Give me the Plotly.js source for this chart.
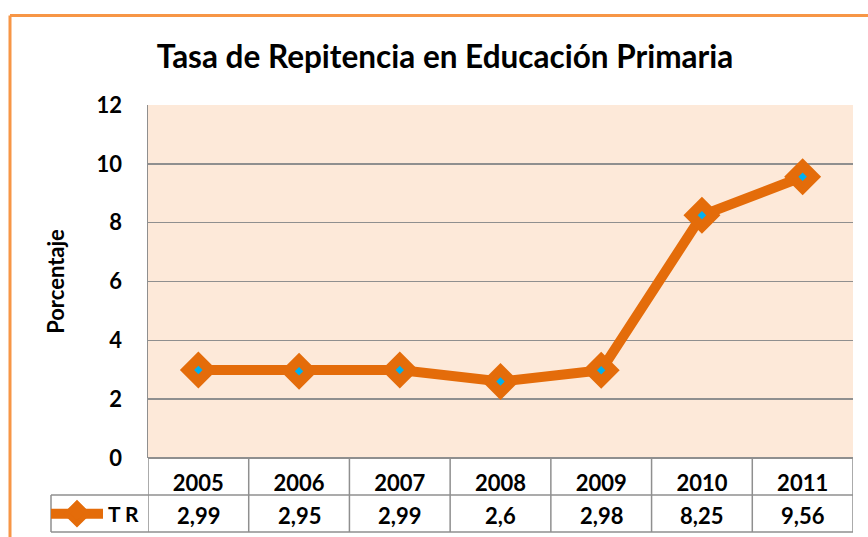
<!DOCTYPE html>
<html><head><meta charset="utf-8">
<script src="https://cdn.plot.ly/plotly-3.0.1.min.js"></script>
<style>html,body{margin:0;padding:0;background:#fff}#c{width:868px;height:537px}</style>
</head><body><div id="c"></div>
<script>
const years = ['2005','2006','2007','2008','2009','2010','2011'];
const tr = [2.99, 2.95, 2.99, 2.6, 2.98, 8.25, 9.56];
const seriesName = 'T R';
const chartTitle = 'Tasa de Repitencia en Educación Primaria';
const yTitle = 'Porcentaje';

const W = 868, H = 537;
const M = {l:148, r:15, t:105, b:79, autoexpand:false};
const PW = W - M.l - M.r, PH = H - M.t - M.b;
const px = x => (x - M.l) / PW;
const py = y => (H - M.b - y) / PH;

const font = 'Lato, "Open Sans", sans-serif';
const lineCol = '#E46C0A';
const gridCol = '#8F8F8F';
const fs = 22;

const traces = [
  {x: years, y: tr, type:'scatter', mode:'lines+markers', name: seriesName,
   line:{color:lineCol, width:10},
   marker:{symbol:'diamond', size:23, color:lineCol, line:{color:lineCol, width:5}},
   showlegend:true, hoverinfo:'skip'},
  {x: years, y: tr, type:'scatter', mode:'markers', showlegend:false,
   marker:{symbol:'diamond', size:6.5, color:'#00B0F0'}, hoverinfo:'skip'}
];

const shapes = [];
// outer frame
shapes.push({type:'line', xref:'paper', yref:'paper', x0:px(10), x1:px(870), y0:py(15.5), y1:py(15.5), line:{color:'#F79646', width:3}});
shapes.push({type:'line', xref:'paper', yref:'paper', x0:px(10), x1:px(10), y0:py(15.5), y1:py(540), line:{color:'#F79646', width:3}});
// table lines
const tl = {color:gridCol, width:1.5};
shapes.push({type:'line', xref:'paper', yref:'paper', x0:px(51), x1:1, y0:py(495), y1:py(495), line:tl});
shapes.push({type:'line', xref:'paper', yref:'paper', x0:px(51), x1:1, y0:py(532), y1:py(532), line:tl});
shapes.push({type:'line', xref:'paper', yref:'paper', x0:px(51), x1:px(51), y0:py(495), y1:py(532), line:tl});
for (let i = 0; i <= years.length; i++) {
  shapes.push({type:'line', xref:'x', yref:'paper', x0:i-0.5, x1:i-0.5, y0:0, y1:py(532), line:tl});
}

const annotations = tr.map((v, i) => ({
  x: i, xref:'x', y: py(515), yref:'paper', showarrow:false,
  text: String(v).replace('.', ','), font:{family:font, size:fs, color:'#000', weight:'bold'},
  xanchor:'center', yanchor:'middle'
}));

const layout = {
  width: W, height: H, margin: M,
  paper_bgcolor:'#fff', plot_bgcolor:'#FDE9D9',
  title:{text: chartTitle, font:{family:font, size:31.5, color:'#000', weight:'bold'},
         x: px(445), xanchor:'center', y: 1 - 57/H, yanchor:'middle', xref:'paper', yref:'container'},
  xaxis:{type:'category', range:[-0.5, 6.5], showgrid:false, zeroline:false, showline:false,
         ticks:'outside', ticklen:6, tickcolor:'rgba(0,0,0,0)',
         tickfont:{family:font, size:fs, color:'#000', weight:'bold'}, fixedrange:true},
  yaxis:{range:[0,12], dtick:2, showgrid:true, gridcolor:gridCol, gridwidth:1.5,
         zeroline:true, zerolinecolor:gridCol, zerolinewidth:1.5,
         showline:true, linecolor:gridCol, linewidth:1.5,
         ticks:'outside', ticklen:20, tickcolor:'rgba(0,0,0,0)',
         tickfont:{family:font, size:fs, color:'#000', weight:'bold'},
         title:{text:yTitle, font:{family:font, size:fs, color:'#000', weight:'bold'}, standoff:26},
         automargin:false, fixedrange:true},
  showlegend:true,
  legend:{x: px(46), y: py(514), xanchor:'left', yanchor:'middle', bgcolor:'rgba(0,0,0,0)',
          font:{family:font, size:21, color:'#000', weight:'bold'}, itemwidth:52, tracegroupgap:0},
  shapes, annotations
};
Plotly.newPlot('c', traces, layout, {displayModeBar:false, staticPlot:true});
</script></body></html>
